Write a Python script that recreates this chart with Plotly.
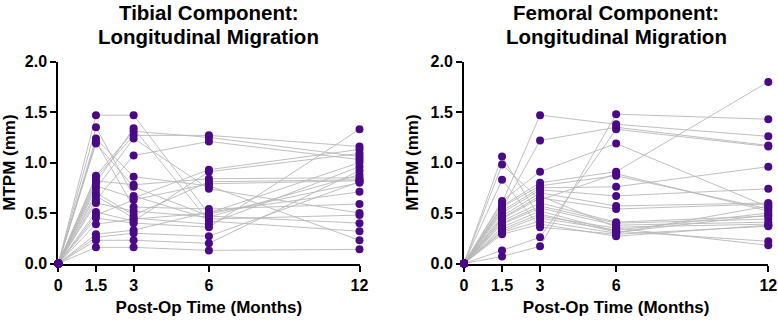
import plotly.graph_objects as go

times = [0, 1.5, 3, 6, 12]
x_tick_labels = ["0", "1.5", "3", "6", "12"]
y_tick_vals = [0, 0.5, 1.0, 1.5, 2.0]
y_tick_labels = ["0.0", "0.5", "1.0", "1.5", "2.0"]

# Tibial component MTPM (mm) per patient at 1.5, 3, 6, 12 months (0 at baseline)
tibial_1_5 = [1.47, 1.35, 1.24, 1.21, 1.19, 0.87, 0.85, 0.82, 0.80, 0.77, 0.74, 0.70,
              0.67, 0.63, 0.60, 0.51, 0.48, 0.45, 0.39, 0.29, 0.26, 0.23, 0.16]
tibial_3 = [1.47, 0.67, 0.86, 0.56, 0.76, 1.31, 1.27, 0.78, 1.34, 0.65, 1.24, 0.48,
            0.45, 1.07, 0.52, 0.42, 0.63, 0.40, 0.44, 0.33, 0.30, 0.23, 0.16]
tibial_6 = [0.49, 0.44, 0.77, 0.54, 0.47, 1.25, 1.27, 0.84, 0.42, 0.93, 0.74, 0.81,
            0.39, 1.21, 0.46, 0.91, 0.79, 0.36, 0.50, 0.51, 0.27, 0.20, 0.13]
tibial_12 = [0.80, 0.48, 0.23, 0.59, 0.40, 1.06, 1.16, 0.85, 0.32, 1.13, 0.50, 0.83,
             0.96, 1.03, 0.88, 1.09, 0.82, 1.33, 1.00, 0.71, 0.81, 0.92, 0.14]

# Femoral component MTPM (mm)
femoral_1_5 = [0.60, 0.54, 0.07, 1.06, 0.98, 0.83, 0.62, 0.57, 0.56, 0.52, 0.50, 0.47,
               0.45, 0.44, 0.42, 0.40, 0.39, 0.36, 0.34, 0.32, 0.31, 0.29, 0.13]
femoral_3 = [1.47, 1.22, 0.17, 0.45, 0.63, 0.36, 0.91, 0.80, 0.77, 0.75, 0.73, 0.70,
             0.67, 0.65, 0.60, 0.57, 0.55, 0.52, 0.49, 0.47, 0.42, 0.39, 0.26]
femoral_6 = [1.38, 1.35, 1.48, 0.33, 0.89, 0.29, 1.19, 0.91, 0.87, 0.76, 0.67, 0.57,
             0.36, 0.54, 0.41, 0.40, 0.38, 0.32, 0.31, 0.35, 0.30, 0.27, 1.33]
femoral_12 = [1.26, 1.17, 1.43, 0.50, 0.52, 0.37, 0.56, 1.80, 0.54, 0.96, 0.74, 0.60,
              0.39, 0.59, 0.47, 0.44, 0.41, 0.22, 0.48, 0.18, 0.57, 0.38, 1.16]

titles = [
    ["Tibial Component:", "Longitudinal Migration"],
    ["Femoral Component:", "Longitudinal Migration"],
]
panel_series = [
    [tibial_1_5, tibial_3, tibial_6, tibial_12],
    [femoral_1_5, femoral_3, femoral_6, femoral_12],
]

LINE_COLOR = "#b8b8b8"
DOT_COLOR = "#4a0a86"
FONT = "Liberation Sans, Arial, sans-serif"

fig = go.Figure()

x_domains = [[58.3 / 778, 359.5 / 778], [464.0 / 778, 768.3 / 778]]
y_domain = [1 - 263.5 / 322, 1 - 61.7 / 322]
title_line_y = [1 - 12.5 / 322, 1 - 36.0 / 322]

for i, series in enumerate(panel_series):
    xa = "x" if i == 0 else "x2"
    ya = "y" if i == 0 else "y2"
    lx, ly = [], []
    px, py = [], []
    n = len(series[0])
    for p in range(n):
        vals = [0.0] + [s[p] for s in series]
        lx += times + [None]
        ly += vals + [None]
        px += times
        py += vals
    fig.add_trace(go.Scatter(x=lx, y=ly, mode="lines", xaxis=xa, yaxis=ya,
                             line=dict(color=LINE_COLOR, width=0.9),
                             hoverinfo="skip", showlegend=False, cliponaxis=False))
    fig.add_trace(go.Scatter(x=px, y=py, mode="markers", xaxis=xa, yaxis=ya,
                             marker=dict(color=DOT_COLOR, size=8, line=dict(width=0)),
                             showlegend=False, cliponaxis=False))
    cx = (x_domains[i][0] + x_domains[i][1]) / 2
    for line_text, ty in zip(titles[i], title_line_y):
        fig.add_annotation(text="<b>" + line_text + "</b>", x=cx, y=ty,
                           xref="paper", yref="paper",
                           xanchor="center", yanchor="middle", showarrow=False,
                           font=dict(family=FONT, size=20.5, color="black"))

axis_common = dict(showline=True, linecolor="black", linewidth=2, ticks="outside",
                   ticklen=6, tickwidth=2, tickcolor="black", showgrid=False, zeroline=False,
                   layer="below traces", automargin=False,
                   tickfont=dict(family=FONT, size=16, color="black", weight="bold"))

for i in range(2):
    suffix = "" if i == 0 else "2"
    fig.update_layout(**{
        "xaxis" + suffix: dict(axis_common, domain=x_domains[i], range=[0, 12],
                               tickvals=times, ticktext=x_tick_labels,
                               anchor="y" + suffix,
                               title=dict(text="<b>Post-Op Time (Months)</b>", standoff=8,
                                          font=dict(family=FONT, size=17, color="black"))),
        "yaxis" + suffix: dict(axis_common, domain=y_domain, range=[0, 2],
                               tickvals=y_tick_vals, ticktext=y_tick_labels,
                               anchor="x" + suffix,
                               title=dict(text="<b>MTPM (mm)</b>", standoff=8,
                                          font=dict(family=FONT, size=17, color="black"))),
    })

fig.update_layout(width=778, height=322, margin=dict(l=0, r=0, t=0, b=0),
                  plot_bgcolor="white", paper_bgcolor="white",
                  font=dict(family=FONT, color="black"))

fig.write_html("out.html", config={"displayModeBar": False},
               post_script="document.body.style.margin='0';document.body.style.overflow='hidden';")
